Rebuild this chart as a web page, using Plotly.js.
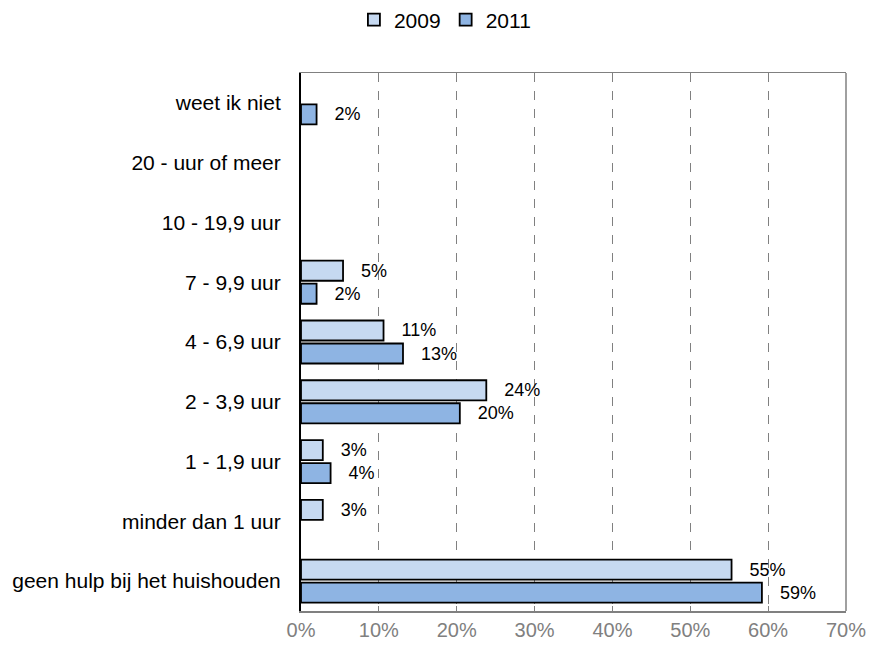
<!DOCTYPE html>
<html>
<head>
<meta charset="utf-8">
<script src="https://cdn.plot.ly/plotly-3.0.1.min.js"></script>
<style>html,body{margin:0;padding:0;background:#fff;}#chart{width:869px;height:646px;}</style>
</head>
<body>
<div id="chart"></div>
<script>
const categories = [
  "weet ik niet",
  "20 - uur of meer",
  "10 - 19,9 uur",
  "7 - 9,9 uur",
  "4 - 6,9 uur",
  "2 - 3,9 uur",
  "1 - 1,9 uur",
  "minder dan 1 uur",
  "geen hulp bij het huishouden"
];
const values2009 = [null, null, null, 5.4, 10.6, 23.8, 2.8, 2.8, 55.3];
const values2011 = [2.0, null, null, 2.0, 13.1, 20.4, 3.8, null, 59.2];
const seriesNames = ["2009", "2011"];
const xTicks = [0, 10, 20, 30, 40, 50, 60, 70];

const pad = "\u00a0\u00a0\u00a0";
function series(name, vals, color) {
  return {
    type: "bar",
    orientation: "h",
    name: name,
    y: categories,
    x: vals,
    marker: {color: color, line: {color: "#000000", width: 1.8}},
    texttemplate: pad + "%{x:.0f}%",
    textposition: "outside",
    textfont: {family: "Liberation Sans, Arial, sans-serif", size: 18, color: "#000000"},
    cliponaxis: false,
    hoverinfo: "skip"
  };
}

const data = [
  series(seriesNames[0], values2009, "#C6D9F1"),
  series(seriesNames[1], values2011, "#8EB4E3")
];

const layout = {
  width: 869,
  height: 646,
  margin: {l: 301, r: 23, t: 73, b: 35},
  paper_bgcolor: "#ffffff",
  plot_bgcolor: "#ffffff",
  font: {family: "Liberation Sans, Arial, sans-serif", color: "#000000"},
  barmode: "group",
  bargap: 0.23,
  bargroupgap: 0.13,
  showlegend: true,
  legend: {
    orientation: "h",
    xref: "container",
    yref: "container",
    x: 0.512,
    xanchor: "center",
    y: 1 - 20 / 646,
    yanchor: "middle",
    font: {size: 21, color: "#000000"},
    itemwidth: 30,
    traceorder: "normal"
  },
  xaxis: {
    range: [0, 70],
    tickvals: xTicks,
    ticktext: xTicks.map(v => v + "%"),
    tickfont: {size: 20, color: "#808080"},
    showgrid: true,
    gridcolor: "#808080",
    griddash: "dash",
    gridwidth: 1,
    zeroline: false,
    showline: true,
    mirror: true,
    linecolor: "#808080",
    linewidth: 1.5,
    ticks: "inside",
    ticklen: 5,
    tickcolor: "#808080",
    fixedrange: true
  },
  yaxis: {
    type: "category",
    categoryorder: "array",
    categoryarray: categories,
    autorange: "reversed",
    tickfont: {size: 21, color: "#000000"},
    showgrid: false,
    zeroline: false,
    showline: true,
    linecolor: "#000000",
    linewidth: 2,
    ticks: "",
    ticklabelstandoff: 14,
    fixedrange: true
  },
  shapes: [{
    type: "line", xref: "paper", yref: "paper",
    x0: 1, x1: 1, y0: 0, y1: 1,
    line: {color: "#808080", width: 1.5}
  }]
};

Plotly.newPlot("chart", data, layout, {displayModeBar: false, staticPlot: true});
</script>
</body>
</html>
